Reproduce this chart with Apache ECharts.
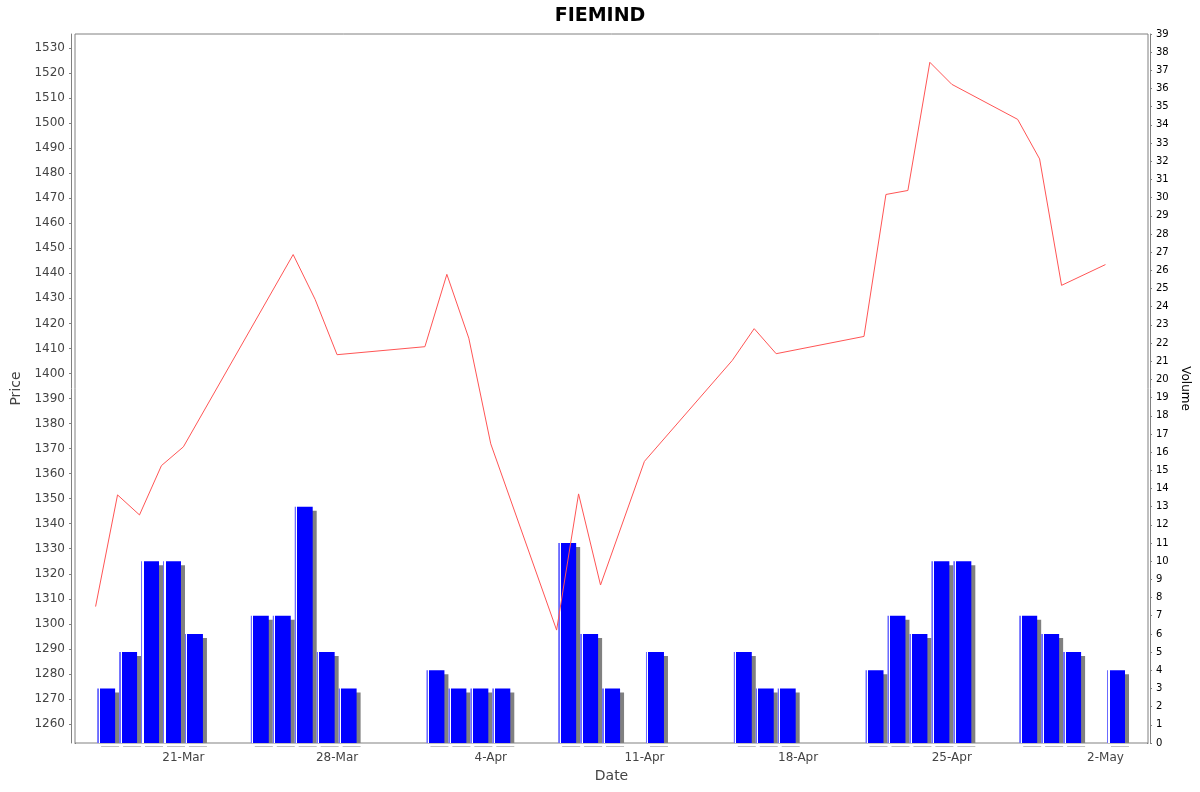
<!DOCTYPE html>
<html>
<head>
<meta charset="utf-8">
<script src="https://cdn.jsdelivr.net/npm/echarts@6/dist/echarts.min.js"></script>
<style>
  html, body { margin: 0; padding: 0; background: #fff; }
  #chart-container { width: 1200px; height: 792px; }
</style>
</head>
<body>
<div id="chart-container"></div>
<script>
var dom = document.getElementById("chart-container");
var myChart = echarts.init(dom, null, { renderer: "canvas" });

var chart_title = "FIEMIND";

// trading days
var dates = [
  "2024-03-17", "2024-03-18", "2024-03-19", "2024-03-20", "2024-03-21",
  "2024-03-24", "2024-03-25", "2024-03-26", "2024-03-27", "2024-03-28",
  "2024-04-01", "2024-04-02", "2024-04-03", "2024-04-04",
  "2024-04-07", "2024-04-08", "2024-04-09", "2024-04-11",
  "2024-04-15", "2024-04-16", "2024-04-17",
  "2024-04-21", "2024-04-22", "2024-04-23", "2024-04-24", "2024-04-25",
  "2024-04-28", "2024-04-29", "2024-04-30", "2024-05-02"
];
// close price (no price for 24/25-Mar, line runs straight through)
var prices = [
  1306.9, 1351.5, 1343.5, 1363.2, 1370.7,
  null, null, 1447.5, 1429.6, 1407.5,
  1410.7, 1439.6, 1414.1, 1371.9,
  1297.5, 1351.9, 1315.5, 1364.9,
  1405.2, 1417.9, 1407.9,
  1414.8, 1471.5, 1473.1, 1524.3, 1515.5,
  1501.5, 1485.7, 1435.2, 1443.5
];
var volumes = [
  3, 5, 10, 10, 6,
  7, 7, 13, 5, 3,
  4, 3, 3, 3,
  11, 6, 3, 5,
  5, 3, 3,
  4, 7, 6, 10, 10,
  7, 6, 5, 4
];
var tickDates = ["2024-03-21", "2024-03-28", "2024-04-04", "2024-04-11", "2024-04-18", "2024-04-25", "2024-05-02"];
var priceTicks = [];
for (var p = 1260; p <= 1530; p += 10) priceTicks.push(p);

var months = ["Jan", "Feb", "Mar", "Apr", "May", "Jun", "Jul", "Aug", "Sep", "Oct", "Nov", "Dec"];
var DAY = 24 * 3600 * 1000;

function ts(s) {
  var a = s.split("-");
  return new Date(+a[0], +a[1] - 1, +a[2]).getTime();
}

var priceData = dates.map(function (d, i) { return [ts(d), prices[i]]; });
// volume bars are drawn across the trading day, centred around midday
var volData = dates.map(function (d, i) { return [ts(d) + 0.48 * DAY, volumes[i]]; });
var tickTs = tickDates.map(ts);

var font = "DejaVu Sans";

var option = {
  animation: false,
  backgroundColor: "#ffffff",
  textStyle: { fontFamily: font },
  title: {
    text: chart_title,
    left: "center",
    top: 2,
    textStyle: { fontFamily: font, fontSize: 19, fontWeight: "bold", color: "#000" }
  },
  grid: {
    left: 75,
    right: 52,
    top: 34,
    bottom: 49,
    show: true,
    borderColor: "#808080",
    borderWidth: 1,
    backgroundColor: "#ffffff"
  },
  // bar shadows stop at the plot edge
  graphic: [
    {
      type: "rect",
      left: 76,
      top: 743.6,
      z: 100,
      shape: { width: 1071, height: 3 },
      style: { fill: "#ffffff" }
    }
  ],
  xAxis: {
    type: "value",
    min: ts("2024-03-16") + 0.0625 * DAY,
    max: ts("2024-05-03") + 0.9375 * DAY,
    offset: 4,
    name: "Date",
    nameLocation: "middle",
    nameGap: 22,
    nameTextStyle: { fontFamily: font, fontSize: 14, color: "#444" },
    axisLine: { show: true, lineStyle: { color: "#808080" } },
    axisTick: { show: true, length: 2, customValues: tickTs, lineStyle: { color: "#808080" } },
    axisLabel: {
      customValues: tickTs,
      fontFamily: font,
      fontSize: 12,
      color: "#444",
      margin: 5,
      formatter: function (v) {
        var d = new Date(v);
        return d.getDate() + "-" + months[d.getMonth()];
      }
    },
    splitLine: { show: false }
  },
  yAxis: [
    {
      type: "value",
      position: "left",
      min: 1252.4,
      max: 1535.6,
      offset: 4,
      name: "Price",
      nameLocation: "middle",
      nameGap: 42,
      nameTextStyle: { fontFamily: font, fontSize: 14, color: "#444" },
      axisLine: { show: true, lineStyle: { color: "#808080" } },
      axisTick: { show: true, length: 2, customValues: priceTicks, lineStyle: { color: "#808080" } },
      axisLabel: {
        customValues: priceTicks,
        fontFamily: font,
        fontSize: 12,
        color: "#444",
        margin: 6,
        formatter: function (v) { return String(v); }
      },
      splitLine: { show: false }
    },
    {
      type: "value",
      position: "right",
      min: 0,
      max: 39,
      interval: 1,
      offset: 2,
      name: "Volume",
      nameLocation: "middle",
      nameGap: 25,
      nameRotate: -90,
      nameTextStyle: { fontFamily: font, fontSize: 12, color: "#000" },
      axisLine: { show: true, lineStyle: { color: "#808080" } },
      axisTick: { show: true, length: 2, lineStyle: { color: "#808080" } },
      axisLabel: { fontFamily: font, fontSize: 10, color: "#000", margin: 6 },
      splitLine: { show: false }
    }
  ],
  series: [
    {
      name: "Volume",
      type: "bar",
      yAxisIndex: 1,
      barWidth: 18,
      clip: true,
      z: 1,
      itemStyle: {
        color: new echarts.graphic.LinearGradient(0, 0, 1, 0, [
          { offset: 0, color: "#6b6bff" },
          { offset: 0.08, color: "#6b6bff" },
          { offset: 0.08, color: "#ffffff" },
          { offset: 0.14, color: "#ffffff" },
          { offset: 0.14, color: "#0000ff" },
          { offset: 1, color: "#0000ff" }
        ]),
        shadowColor: "#808080",
        shadowBlur: 0,
        shadowOffsetX: 4,
        shadowOffsetY: 4
      },
      data: volData
    },
    {
      name: "Price",
      type: "line",
      yAxisIndex: 0,
      z: 3,
      showSymbol: false,
      symbol: "none",
      connectNulls: true,
      lineStyle: { color: "#ff5555", width: 1 },
      data: priceData
    }
  ]
};

myChart.setOption(option);

window.addEventListener("resize", function () {
  myChart.resize();
});
</script>
</body>
</html>
